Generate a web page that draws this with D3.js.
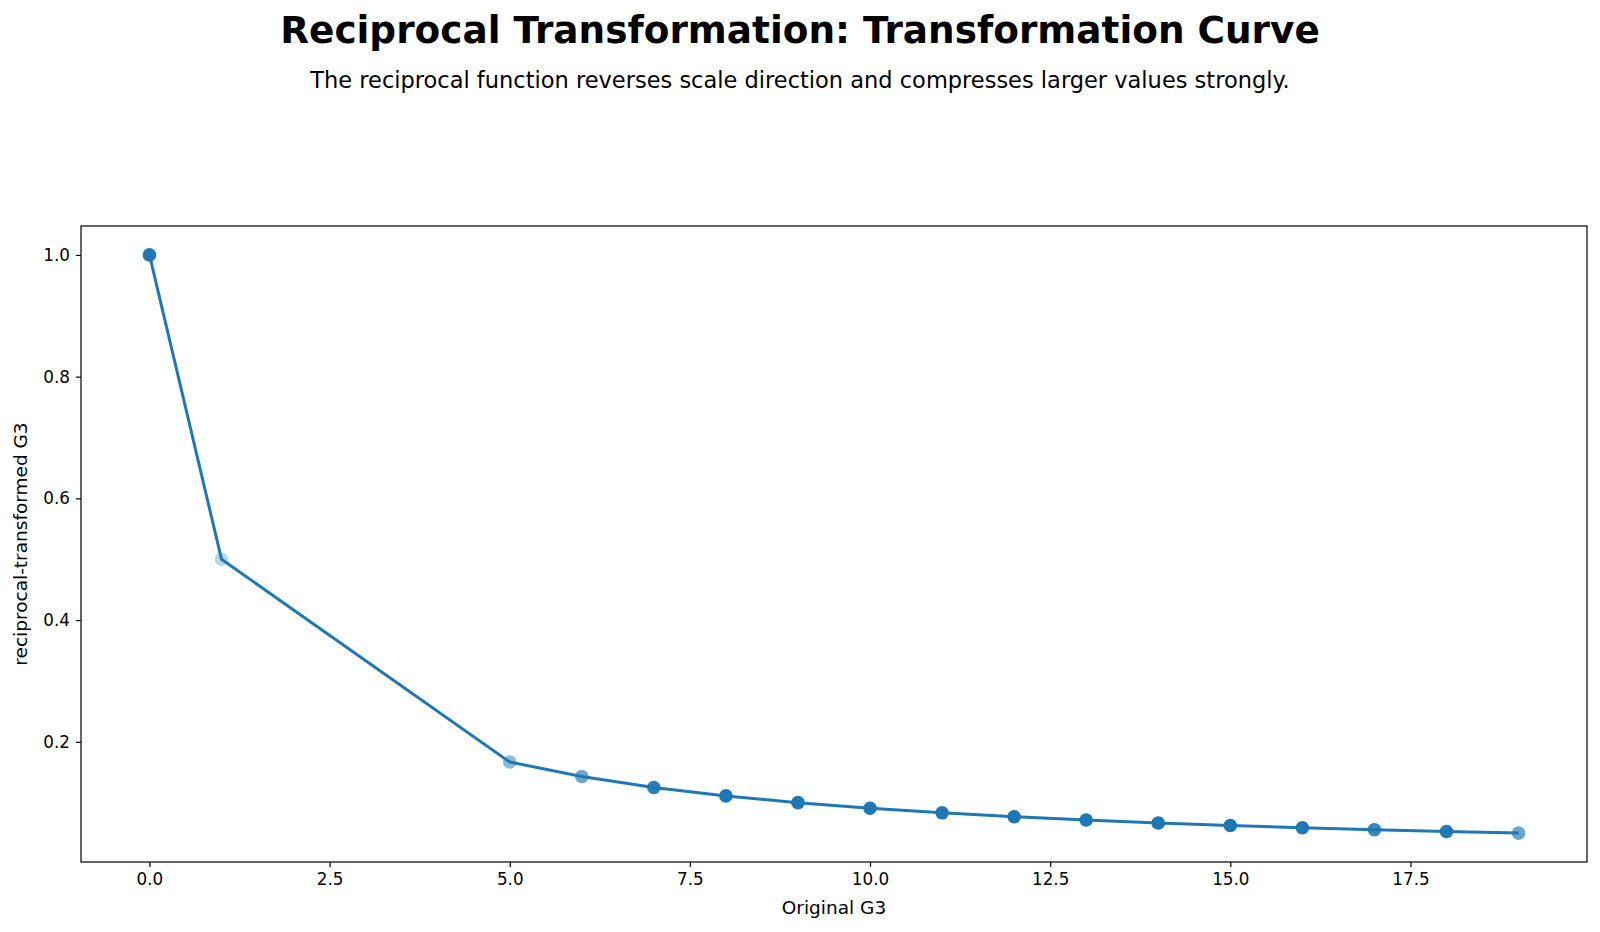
<!DOCTYPE html>
<html>
<head>
<meta charset="utf-8">
<script src="https://cdn.jsdelivr.net/npm/d3@7"></script>
<style>
  body { margin: 0; background: #fff; }
  text { font-family: "DejaVu Sans", sans-serif; }
</style>
</head>
<body>
<script>
// data
const originalG3 = [0, 1, 5, 6, 7, 8, 9, 10, 11, 12, 13, 14, 15, 16, 17, 18, 19];
const reciprocalG3 = [1.0, 0.5, 0.1667, 0.1429, 0.125, 0.1111, 0.1, 0.0909, 0.0833, 0.0769, 0.0714, 0.0667, 0.0625, 0.0588, 0.0556, 0.0526, 0.05];
// number of overlapping observations at each point (gives darker markers)
const pointCounts = [30, 1, 2, 3, 8, 20, 20, 40, 40, 30, 30, 25, 30, 15, 6, 10, 3];
const xTicks = [0, 2.5, 5, 7.5, 10, 12.5, 15, 17.5];
const yTicks = [0.2, 0.4, 0.6, 0.8, 1.0];

const W = 1600, H = 932;
const margin = { top: 226, right: 13, bottom: 70, left: 81 };
const width = W - margin.left - margin.right,
    height = H - margin.top - margin.bottom;

const svg = d3.select('body').append('svg')
    .attr('width', W)
    .attr('height', H);

svg.append('text')
    .attr('x', W / 2).attr('y', 43)
    .attr('text-anchor', 'middle')
    .style('font-size', '37.4px').style('font-weight', 'bold')
    .text('Reciprocal Transformation: Transformation Curve');

svg.append('text')
    .attr('x', W / 2).attr('y', 88)
    .attr('text-anchor', 'middle')
    .style('font-size', '22.5px')
    .text('The reciprocal function reverses scale direction and compresses larger values strongly.');

const g = svg.append('g')
    .attr('transform', `translate(${margin.left}, ${margin.top})`);

const x = d3.scaleLinear().domain([-0.95, 19.95]).range([0, width]);
const y = d3.scaleLinear().domain([0.0025, 1.0475]).range([height, 0]);

const xAxis = g.append('g')
    .attr('transform', `translate(0, ${height})`)
    .call(d3.axisBottom(x).tickValues(xTicks).tickSize(5).tickPadding(6).tickFormat(d3.format('.1f')));

const yAxis = g.append('g')
    .call(d3.axisLeft(y).tickValues(yTicks).tickSize(5).tickPadding(6).tickFormat(d3.format('.1f')));

[xAxis, yAxis].forEach(a => {
    a.select('.domain').remove();
    a.attr('font-size', null).attr('font-family', null);
    a.selectAll('text').style('font-size', '16.8px').attr('fill', '#000');
    a.selectAll('.tick line').attr('stroke', '#000').attr('stroke-width', 1.2);
});

const pts = originalG3.map((v, i) => ({ x: v, y: reciprocalG3[i], n: pointCounts[i] }));

// scatter of observations, alpha 0.3 each
g.append('g')
    .selectAll('circle')
    .data(pts)
    .join('circle')
    .attr('cx', d => x(d.x))
    .attr('cy', d => y(d.y))
    .attr('r', 6.8)
    .attr('fill', '#1f77b4')
    .attr('fill-opacity', d => 1 - Math.pow(0.7, d.n));

g.append('path')
    .datum(pts)
    .attr('fill', 'none')
    .attr('stroke', '#1f77b4')
    .attr('stroke-width', 3)
    .attr('stroke-linejoin', 'round')
    .attr('d', d3.line().x(d => x(d.x)).y(d => y(d.y)));

// frame
g.append('rect')
    .attr('width', width).attr('height', height)
    .attr('fill', 'none').attr('stroke', '#000').attr('stroke-width', 1.2);

svg.append('text')
    .attr('x', margin.left + width / 2).attr('y', 914)
    .attr('text-anchor', 'middle')
    .style('font-size', '18.5px')
    .text('Original G3');

svg.append('text')
    .attr('transform', `translate(27, ${margin.top + height / 2}) rotate(-90)`)
    .attr('text-anchor', 'middle')
    .style('font-size', '18.5px')
    .text('reciprocal-transformed G3');
</script>
</body>
</html>
